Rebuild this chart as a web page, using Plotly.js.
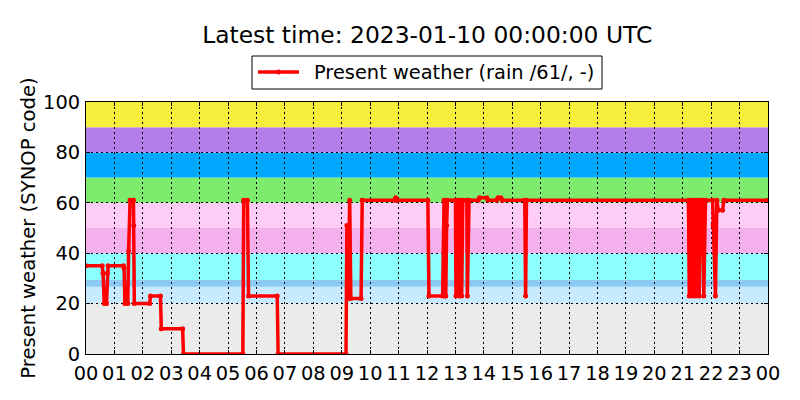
<!DOCTYPE html>
<html>
<head>
<meta charset="utf-8">
<script src="https://cdn.plot.ly/plotly-3.0.1.min.js"></script>
<style>html,body{margin:0;padding:0;background:#fff;}#chart{width:800px;height:400px;}</style>
</head>
<body>
<div id="chart"></div>
<script>
// Time of day in hours (UTC) for each observation
var timeHours = [0, 0.57, 0.6, 0.64, 0.72, 0.75, 0.78, 1.32, 1.34, 1.37, 1.47, 1.5, 1.55, 1.67, 1.68, 1.7,
  2.24, 2.27, 2.62, 2.65, 3.4, 3.43, 5.52, 5.55, 5.68, 5.72, 6.73, 6.76, 9.15, 9.18, 9.22, 9.28, 9.32,
  9.68, 9.72, 10.85, 10.9, 10.95, 12.03, 12.07, 12.55, 12.6, 12.63, 12.66, 12.69, 12.72,
  13.0, 13.02, 13.06, 13.13, 13.17, 13.22, 13.26, 13.4, 13.42, 13.48,
  13.8, 13.85, 14.1, 14.15, 14.45, 14.5, 14.6, 14.65, 15.44, 15.47, 15.5,
  21.2, 21.23, 21.28, 21.34, 21.4, 21.46, 21.49, 21.56, 21.58, 21.64,
  21.72, 21.74, 21.8, 22.05, 22.07, 22.15, 22.2, 22.25, 22.4, 22.45, 24];
// Present weather SYNOP code
var presentWeather = [35, 35, 32, 20, 20, 32, 35, 35, 34, 20, 20, 41, 61, 61, 51, 20,
  20, 23, 23, 10, 10, 0, 0, 61, 61, 23, 23, 0, 0, 51, 22, 61, 22,
  22, 61, 61, 62, 61, 61, 23, 23, 61, 23, 23, 51, 61,
  61, 23, 61, 23, 61, 23, 61, 61, 23, 61,
  61, 62, 62, 61, 61, 62, 62, 61, 61, 23, 61,
  61, 23, 61, 23, 61, 23, 61, 61, 23, 61,
  61, 23, 61, 61, 51, 23, 61, 57, 57, 61, 61];

var tickHours = [0,1,2,3,4,5,6,7,8,9,10,11,12,13,14,15,16,17,18,19,20,21,22,23,24];
var tickLabels = ['00','01','02','03','04','05','06','07','08','09','10','11','12','13','14','15','16','17','18','19','20','21','22','23','00'];

// Background code bands
var bandLower = [0, 20, 26.7, 29.4, 40, 50, 60, 70, 80, 90];
var bandUpper = [20, 26.7, 29.4, 40, 50, 60, 70, 80, 90, 100];
var bandColors = ['#ebebeb', '#c8eafe', '#8ccaf4', '#8cffff', '#f4b0ec', '#fdcdf6', '#7deb6e', '#00a9ff', '#b47ee9', '#f6ef3c'];

var seriesName = 'Present weather (rain /61/, -)';
var seriesColor = '#ff0000';

var shapes = bandLower.map(function (lo, i) {
  return {type: 'rect', xref: 'paper', yref: 'y', x0: 0, x1: 1, y0: lo, y1: bandUpper[i],
    fillcolor: bandColors[i], line: {width: 0}, layer: 'below'};
});

// pixel -> paper helpers for the custom legend box
function px(v) { return (v - 86) / 682; }
function py(v) { return (354 - v) / 252; }

shapes.push({type: 'rect', xref: 'paper', yref: 'paper', x0: px(252), x1: px(602), y0: py(89), y1: py(56),
  fillcolor: '#fff', line: {color: '#000', width: 1}, layer: 'above'});
shapes.push({type: 'line', xref: 'paper', yref: 'paper', x0: px(258), x1: px(299), y0: py(72), y1: py(72),
  line: {color: seriesColor, width: 3.5}, layer: 'above'});
shapes.push({type: 'circle', xref: 'paper', yref: 'paper', x0: px(276), x1: px(281), y0: py(74.5), y1: py(69.5),
  fillcolor: seriesColor, line: {color: seriesColor, width: 0}, layer: 'above'});

var font = {family: 'DejaVu Sans, sans-serif', size: 19.4, color: '#000'};

var trace = {
  x: timeHours, y: presentWeather, type: 'scatter', mode: 'lines+markers',
  name: seriesName, showlegend: false,
  line: {color: seriesColor, width: 3.5},
  marker: {color: seriesColor, size: 5}
};

var axisCommon = {
  showline: true, linecolor: '#000', linewidth: 1, mirror: 'ticks',
  ticks: 'inside', ticklen: 4, tickcolor: '#000',
  showgrid: true, gridcolor: '#000', griddash: '2px,3px', gridwidth: 1,
  zeroline: false, tickfont: font
};

var layout = {
  width: 800, height: 400,
  margin: {l: 86, r: 32, t: 102, b: 46},
  paper_bgcolor: '#fff', plot_bgcolor: '#fff',
  font: font,
  title: {text: 'Latest time: 2023-01-10 00:00:00 UTC', font: {family: 'DejaVu Sans, sans-serif', size: 23.4, color: '#000'},
    x: 0.534, xanchor: 'center', y: 0.912, yanchor: 'middle'},
  xaxis: Object.assign({}, axisCommon, {range: [0, 24], tickvals: tickHours, ticktext: tickLabels, ticklabelstandoff: 2}),
  yaxis: Object.assign({}, axisCommon, {range: [0, 100], tickvals: [0,20,40,60,80,100], ticklabelstandoff: 1,
    title: {text: 'Present weather (SYNOP code)', font: {family: 'DejaVu Sans, sans-serif', size: 19.6, color: '#000'}, standoff: 2}}),
  showlegend: false,
  shapes: shapes,
  annotations: [{text: seriesName, xref: 'paper', yref: 'paper', x: px(312), y: py(72),
    xanchor: 'left', yanchor: 'middle', showarrow: false, font: font}]
};

Plotly.newPlot('chart', [trace], layout, {displayModeBar: false, staticPlot: true});
</script>
</body>
</html>
